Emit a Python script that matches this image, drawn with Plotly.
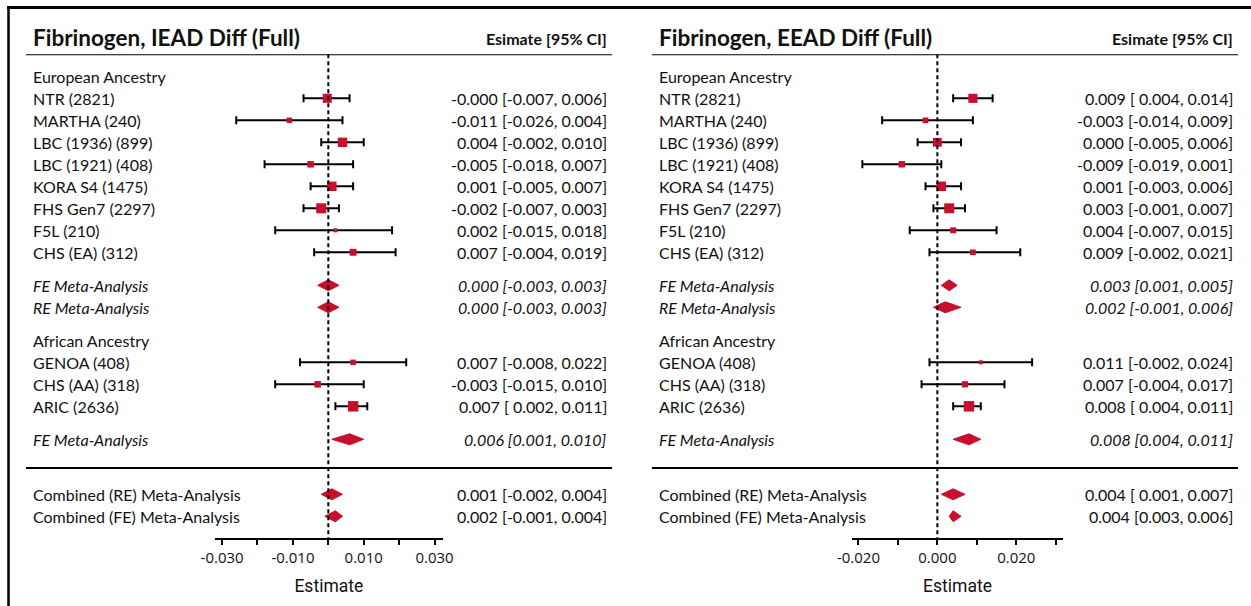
import plotly.graph_objects as go

# ---------------- data ----------------
group_labels = ["European Ancestry", "African Ancestry"]
group_rows = [0, 12]

study_labels = ["NTR (2821)", "MARTHA (240)", "LBC (1936) (899)", "LBC (1921) (408)",
                "KORA S4 (1475)", "FHS Gen7 (2297)", "F5L (210)", "CHS (EA) (312)",
                "GENOA (408)", "CHS (AA) (318)", "ARIC (2636)"]
study_rows = [1, 2, 3, 4, 5, 6, 7, 8, 13, 14, 15]

meta_labels = ["FE Meta-Analysis", "RE Meta-Analysis", "FE Meta-Analysis",
               "Combined (RE) Meta-Analysis", "Combined (FE) Meta-Analysis"]
meta_rows = [9.5, 10.5, 16.5, 19, 20]
meta_italic = [True, True, True, False, False]

iead_est = [-0.0003, -0.011, 0.004, -0.005, 0.001, -0.002, 0.002, 0.007, 0.007, -0.003, 0.007]
iead_lo = [-0.007, -0.026, -0.002, -0.018, -0.005, -0.007, -0.015, -0.004, -0.008, -0.015, 0.002]
iead_hi = [0.006, 0.004, 0.010, 0.007, 0.007, 0.003, 0.018, 0.019, 0.022, 0.010, 0.011]
iead_text = ["-0.000 [-0.007, 0.006]", "-0.011 [-0.026, 0.004]", "0.004 [-0.002, 0.010]",
             "-0.005 [-0.018, 0.007]", "0.001 [-0.005, 0.007]", "-0.002 [-0.007, 0.003]",
             "0.002 [-0.015, 0.018]", "0.007 [-0.004, 0.019]", "0.007 [-0.008, 0.022]",
             "-0.003 [-0.015, 0.010]", "0.007 [ 0.002, 0.011]"]
iead_meta_est = [0.000, 0.000, 0.006, 0.001, 0.002]
iead_meta_lo = [-0.003, -0.003, 0.001, -0.002, -0.001]
iead_meta_hi = [0.003, 0.003, 0.010, 0.004, 0.004]
iead_meta_text = ["0.000 [-0.003, 0.003]", "0.000 [-0.003, 0.003]", "0.006 [0.001, 0.010]",
                  "0.001 [-0.002, 0.004]", "0.002 [-0.001, 0.004]"]
iead_ticks = [-0.03, -0.02, -0.01, 0.0, 0.01, 0.02, 0.03]
iead_ticktext = ["-0.030", "", "-0.010", "", "0.010", "", "0.030"]

eead_est = [0.009, -0.003, 0.000, -0.009, 0.001, 0.003, 0.004, 0.009, 0.011, 0.007, 0.008]
eead_lo = [0.004, -0.014, -0.005, -0.019, -0.003, -0.001, -0.007, -0.002, -0.002, -0.004, 0.004]
eead_hi = [0.014, 0.009, 0.006, 0.001, 0.006, 0.007, 0.015, 0.021, 0.024, 0.017, 0.011]
eead_text = ["0.009 [ 0.004, 0.014]", "-0.003 [-0.014, 0.009]", "0.000 [-0.005, 0.006]",
             "-0.009 [-0.019, 0.001]", "0.001 [-0.003, 0.006]", "0.003 [-0.001, 0.007]",
             "0.004 [-0.007, 0.015]", "0.009 [-0.002, 0.021]", "0.011 [-0.002, 0.024]",
             "0.007 [-0.004, 0.017]", "0.008 [ 0.004, 0.011]"]
eead_meta_est = [0.003, 0.002, 0.008, 0.004, 0.004]
eead_meta_lo = [0.001, -0.001, 0.004, 0.001, 0.003]
eead_meta_hi = [0.005, 0.006, 0.011, 0.007, 0.006]
eead_meta_text = ["0.003 [0.001, 0.005]", "0.002 [-0.001, 0.006]", "0.008 [0.004, 0.011]",
                  "0.004 [ 0.001, 0.007]", "0.004 [0.003, 0.006]"]
eead_ticks = [-0.02, -0.01, 0.0, 0.01, 0.02, 0.03]
eead_ticktext = ["-0.020", "", "0.000", "", "0.020", ""]

titles = ["Fibrinogen, IEAD Diff (Full)", "Fibrinogen, EEAD Diff (Full)"]
col_header = "Esimate [95% CI]"
axis_title = "Estimate"

# ---------------- styling ----------------
W, H = 1251, 606
RED = "#C8102E"
INK = "#111111"
FONT = "Lato, 'Open Sans', sans-serif"
TICKFONT = "'Open Sans', 'Noto Sans', sans-serif"
TITLEFONT = "'Liberation Sans Narrow', 'Roboto', sans-serif"
BODY = 16

def px(xp):
    return xp / W

def py(yp):
    return (H - yp) / H

row0_px, row_h = 76.3, 22.0
y_top_row, y_bot_row = -1, 21
dom_top = py(row0_px + y_top_row * row_h)
dom_bot = py(row0_px + y_bot_row * row_h)

LAB_X = 32
EST_X = 607.5

panels = [
    dict(est=iead_est, lo=iead_lo, hi=iead_hi, text=iead_text,
         mest=iead_meta_est, mlo=iead_meta_lo, mhi=iead_meta_hi, mtext=iead_meta_text,
         ticks=iead_ticks, ticktext=iead_ticktext, xr=[-0.0320, 0.0323],
         dom=[px(215), px(442.7)], off=0, xa="x", axname="xaxis"),
    dict(est=eead_est, lo=eead_lo, hi=eead_hi, text=eead_text,
         mest=eead_meta_est, mlo=eead_meta_lo, mhi=eead_meta_hi, mtext=eead_meta_text,
         ticks=eead_ticks, ticktext=eead_ticktext, xr=[-0.0217, 0.0319],
         dom=[px(851.7), px(1063.3)], off=626, xa="x2", axname="xaxis2"),
]

fig = go.Figure()
annotations = []
shapes = []

def ann(text, x, y, yref, anchor, size):
    annotations.append(dict(text=text, x=x, y=y, xref="paper", yref=yref,
                            xanchor=anchor, yanchor="middle", showarrow=False,
                            borderpad=0, font=dict(family=FONT, size=size, color=INK)))

for i, p in enumerate(panels):
    off = p["off"]
    # box size from study precision (1 / CI width)
    prec = [1.0 / (h - l) for l, h in zip(p["lo"], p["hi"])]
    pmin, pmax = min(prec), max(prec)
    sizes = [4.0 + 6.5 * ((q - pmin) / (pmax - pmin)) ** 0.45 for q in prec]

    fig.add_trace(go.Scatter(
        x=p["est"], y=study_rows, mode="markers", xaxis=p["xa"], yaxis="y",
        marker=dict(symbol="square", size=sizes, color=RED, opacity=1, line=dict(width=0)),
        error_x=dict(type="data", symmetric=False,
                     array=[h - e for e, h in zip(p["est"], p["hi"])],
                     arrayminus=[e - l for e, l in zip(p["est"], p["lo"])],
                     color="black", thickness=2, width=4),
        hoverinfo="skip", showlegend=False, cliponaxis=False))

    dx, dy = [], []
    hh = 0.25
    for e, l, h, r in zip(p["mest"], p["mlo"], p["mhi"], meta_rows):
        dx += [l, e, h, e, l, None]
        dy += [r, r - hh, r, r + hh, r, None]
    fig.add_trace(go.Scatter(
        x=dx, y=dy, mode="lines", fill="toself", fillcolor=RED,
        line=dict(color=RED, width=1), xaxis=p["xa"], yaxis="y",
        hoverinfo="skip", showlegend=False, connectgaps=False))

    ann("<b>" + titles[i] + "</b>", px(LAB_X + off), py(38), "paper", "left", 22.5)
    ann("<b>" + col_header + "</b>", px(EST_X + off), py(39), "paper", "right", 16)
    for g, r in zip(group_labels, group_rows):
        ann(g, px(LAB_X + off), r, "y", "left", BODY)
    for lab, r, t in zip(study_labels, study_rows, p["text"]):
        ann(lab, px(LAB_X + off), r, "y", "left", BODY)
        ann(t, px(EST_X + off), r, "y", "right", BODY)
    for lab, r, it, t in zip(meta_labels, meta_rows, meta_italic, p["mtext"]):
        ann("<i>" + lab + "</i>" if it else lab, px(LAB_X + off), r, "y", "left", BODY)
        ann("<i>" + t + "</i>" if it else t, px(EST_X + off), r, "y", "right", BODY)

    shapes.append(dict(type="line", xref="paper", yref="y", x0=px(26 + off), x1=px(612 + off),
                       y0=-1, y1=-1, line=dict(color="black", width=2)))
    shapes.append(dict(type="line", xref="paper", yref="y", x0=px(26 + off), x1=px(612 + off),
                       y0=17.8, y1=17.8, line=dict(color="black", width=2)))
    shapes.append(dict(type="line", xref=p["xa"], yref="y", x0=0, x1=0, y0=-1, y1=21,
                       line=dict(color="black", width=2, dash="4px,3px")))

    fig.update_layout(**{p["axname"]: dict(
        domain=p["dom"], range=p["xr"], anchor="y",
        showline=True, linewidth=2, linecolor="black",
        ticks="outside", ticklen=5, tickwidth=2, tickcolor="black",
        tickvals=p["ticks"], ticktext=p["ticktext"],
        tickfont=dict(family=TICKFONT, size=15, color=INK),
        showgrid=False, zeroline=False, fixedrange=True, automargin=False,
        title=dict(text=axis_title, standoff=13,
                   font=dict(family=TITLEFONT, size=17.5, color=INK)),
    )})

# outer frame (top and left edges)
shapes.append(dict(type="line", xref="paper", yref="paper", x0=px(7), x1=1.0,
                   y0=py(7.5), y1=py(7.5), line=dict(color="black", width=3)))
shapes.append(dict(type="line", xref="paper", yref="paper", x0=px(8.5), x1=px(8.5),
                   y0=0, y1=py(7.5), line=dict(color="black", width=2.5)))

fig.update_layout(
    width=W, height=H, autosize=False,
    margin=dict(l=0, r=0, t=0, b=0, pad=0, autoexpand=False),
    paper_bgcolor="white", plot_bgcolor="white",
    showlegend=False,
    yaxis=dict(range=[y_bot_row, y_top_row], domain=[dom_bot, dom_top],
               visible=False, showgrid=False, zeroline=False, fixedrange=True),
    annotations=annotations, shapes=shapes,
)

fig.write_html("out.html", config={"displayModeBar": False},
               post_script="document.body.style.margin='0px';")
